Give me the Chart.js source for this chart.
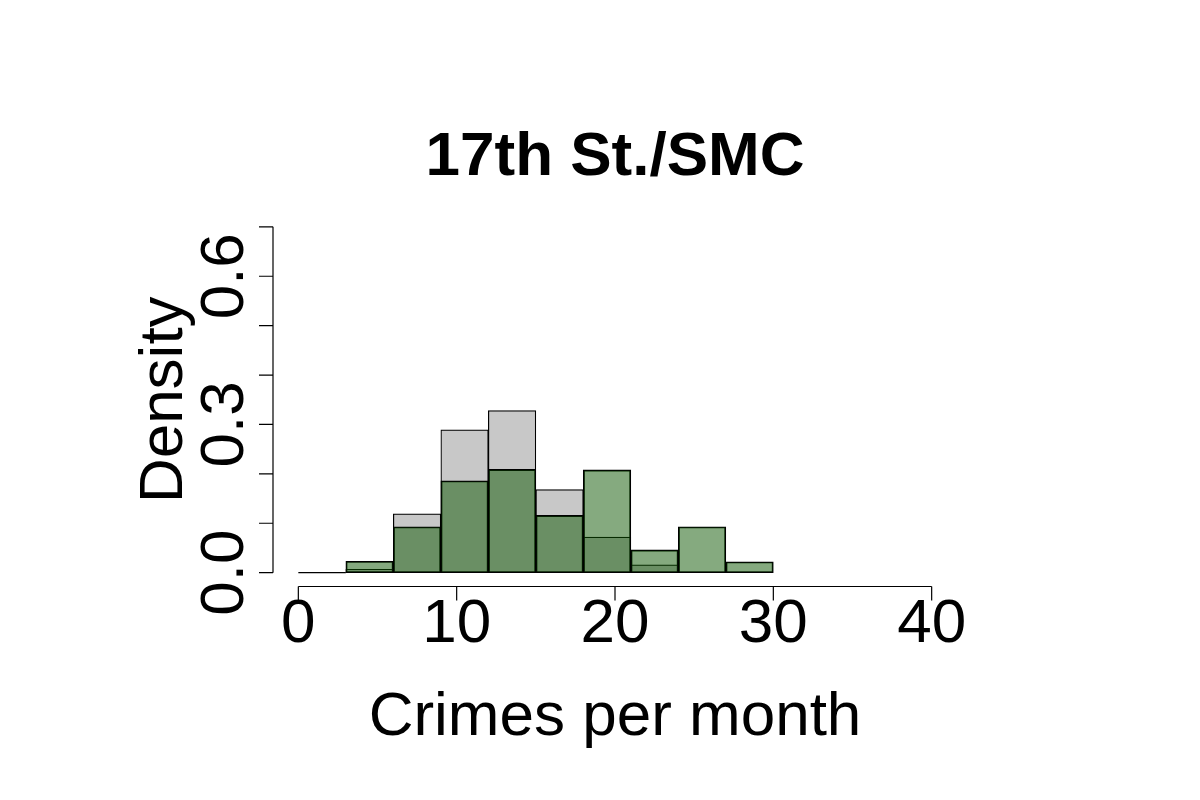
<!DOCTYPE html>
<html lang="en">
<head>
    <meta charset="UTF-8">
    <title>17th St./SMC</title>
    <script src="https://cdn.jsdelivr.net/npm/chart.js@4.4.1/dist/chart.umd.min.js"></script>
    <style>
        body {
            margin: 0;
            background-color: white;
        }
        #wrap {
            width: 1200px;
            height: 800px;
        }
    </style>
</head>
<body>
    <div id="wrap">
        <canvas id="hist" width="1200" height="800"></canvas>
    </div>

    <script>
        // histogram bins (width 3), given by their midpoints
        const binMids = [1.5, 4.5, 7.5, 10.5, 13.5, 16.5, 19.5, 22.5, 25.5, 28.5];
        const binWidth = 3;
        const greyDensity = [0, 0.007, 0.119, 0.289, 0.328, 0.168, 0.072, 0.016, 0, 0];
        const greenDensity = [0, 0.023, 0.093, 0.186, 0.209, 0.116, 0.208, 0.046, 0.093, 0.022];

        const xTicks = [0, 10, 20, 30, 40];
        const yTicks = [0, 0.1, 0.2, 0.3, 0.4, 0.5, 0.6, 0.7];
        const yTickLabels = ['0.0', '', '', '0.3', '', '', '0.6', ''];

        const titleText = '17th St./SMC';
        const xTitle = 'Crimes per month';
        const yTitle = 'Density';

        const FONT = '"Liberation Sans", Arial, sans-serif';

        // R draws empty bins as a flat line on the baseline
        const emptyBins = {
            id: 'emptyBins',
            afterDatasetsDraw(chart) {
                const ctx = chart.ctx;
                const xs = chart.scales.x, ys = chart.scales.y;
                const y0 = ys.getPixelForValue(0);
                ctx.save();
                ctx.strokeStyle = '#000';
                ctx.lineWidth = 1.2;
                ctx.beginPath();
                binMids.forEach((m, i) => {
                    if (greyDensity[i] === 0 && greenDensity[i] === 0) {
                        ctx.moveTo(xs.getPixelForValue(m - binWidth / 2), y0);
                        ctx.lineTo(xs.getPixelForValue(m + binWidth / 2), y0);
                    }
                });
                ctx.stroke();
                ctx.restore();
            }
        };

        // R-style axes: lines only over the tick range, ticks pointing out
        const rAxes = {
            id: 'rAxes',
            afterDraw(chart) {
                const ctx = chart.ctx;
                const xs = chart.scales.x, ys = chart.scales.y;
                const area = chart.chartArea;
                const tick = 14;
                ctx.save();
                ctx.strokeStyle = '#000';
                ctx.lineWidth = 1.2;

                // x axis
                const axY = area.bottom;
                ctx.beginPath();
                ctx.moveTo(xs.getPixelForValue(xTicks[0]), axY);
                ctx.lineTo(xs.getPixelForValue(xTicks[xTicks.length - 1]), axY);
                xTicks.forEach(v => {
                    const px = xs.getPixelForValue(v);
                    ctx.moveTo(px, axY);
                    ctx.lineTo(px, axY + tick);
                });
                ctx.stroke();

                // y axis
                const axX = area.left;
                ctx.beginPath();
                ctx.moveTo(axX, ys.getPixelForValue(yTicks[0]));
                ctx.lineTo(axX, ys.getPixelForValue(yTicks[yTicks.length - 1]));
                yTicks.forEach(v => {
                    const py = ys.getPixelForValue(v);
                    ctx.moveTo(axX, py);
                    ctx.lineTo(axX - tick, py);
                });
                ctx.stroke();

                ctx.fillStyle = '#000';
                ctx.font = '62px ' + FONT;
                ctx.textAlign = 'center';
                ctx.textBaseline = 'alphabetic';
                xTicks.forEach(v => {
                    ctx.fillText(String(v), xs.getPixelForValue(v), 642);
                });

                yTicks.forEach((v, i) => {
                    if (!yTickLabels[i]) return;
                    ctx.save();
                    ctx.translate(243, ys.getPixelForValue(v));
                    ctx.rotate(-Math.PI / 2);
                    ctx.fillText(yTickLabels[i], 0, 0);
                    ctx.restore();
                });

                const midX = (area.left + area.right) / 2;
                ctx.fillText(xTitle, midX, 735);

                ctx.save();
                ctx.translate(182, (area.top + area.bottom) / 2);
                ctx.rotate(-Math.PI / 2);
                ctx.fillText(yTitle, 0, 0);
                ctx.restore();

                ctx.font = 'bold 62px ' + FONT;
                ctx.fillText(titleText, midX, 175);
                ctx.restore();
            }
        };

        const ctx = document.getElementById('hist').getContext('2d');
        new Chart(ctx, {
            type: 'bar',
            data: {
                labels: binMids,
                datasets: [{
                    label: 'after',
                    data: binMids.map((m, i) => ({ x: m, y: greenDensity[i] })),
                    backgroundColor: 'rgba(12, 85, 0, 0.5)',
                    borderColor: '#000',
                    borderWidth: 1.2,
                    borderSkipped: false
                }, {
                    label: 'before',
                    data: binMids.map((m, i) => ({ x: m, y: greyDensity[i] })),
                    backgroundColor: '#c8c8c8',
                    borderColor: '#000',
                    borderWidth: 1.2,
                    borderSkipped: false
                }]
            },
            options: {
                responsive: false,
                animation: false,
                devicePixelRatio: 1,
                layout: {
                    padding: { left: 273, right: 243, top: 213, bottom: 213.5 }
                },
                datasets: {
                    bar: {
                        grouped: false,
                        barPercentage: 1,
                        categoryPercentage: 1
                    }
                },
                plugins: {
                    legend: { display: false },
                    tooltip: { enabled: false }
                },
                scales: {
                    x: {
                        type: 'linear',
                        display: false,
                        offset: false,
                        min: -1.6,
                        max: 41.6
                    },
                    y: {
                        display: false,
                        min: -0.028,
                        max: 0.728
                    }
                }
            },
            plugins: [emptyBins, rAxes]
        });
    </script>
</body>
</html>
